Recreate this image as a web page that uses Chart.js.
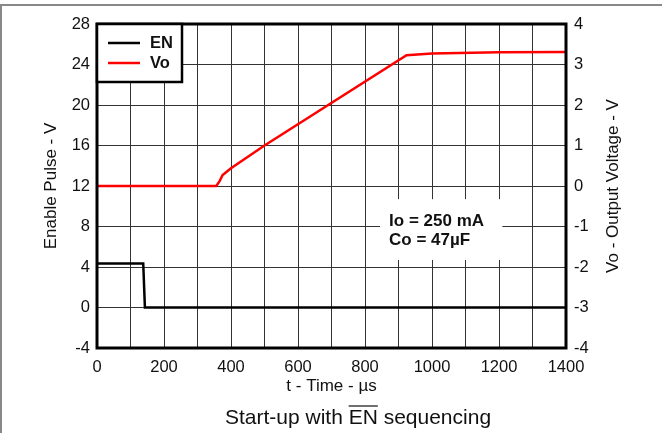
<!DOCTYPE html>
<html>
<head>
<meta charset="utf-8">
<script src="https://cdn.jsdelivr.net/npm/chart.js@4.4.1/dist/chart.umd.min.js"></script>
<style>
  html, body { margin: 0; padding: 0; background: #fff; }
  #wrap { position: relative; width: 663px; height: 433px; }
</style>
</head>
<body>
<div id="wrap"><canvas id="startup" width="663" height="433"></canvas></div>
<script>
  // ── Data ────────────────────────────────────────────────────────
  const enTimes = [0, 138, 143, 1400];           // µs
  const enVolts = [4.35, 4.35, 0, 0];            // V (left axis)
  const voTimes = [0, 200, 356, 366, 375, 400, 500, 924, 1000, 1200, 1400];
  const voVolts = [0, 0, 0, 0.12, 0.27, 0.44, 1.0, 3.23, 3.27, 3.30, 3.31]; // V (right axis)

  const xTicks = [0, 200, 400, 600, 800, 1000, 1200, 1400];
  const leftTicks = [-4, 0, 4, 8, 12, 16, 20, 24, 28];
  const rightTicks = [-4, -3, -2, -1, 0, 1, 2, 3, 4];
  const noteLines = ['Io = 250 mA', 'Co = 47\u00B5F'];
  const rightTitle = 'Vo - Output Voltage - V';

  const FONT = "'Liberation Sans', Arial, sans-serif";
  const INK = '#111';

  const toPoints = (xs, ys) => xs.map((x, i) => ({ x, y: ys[i] }));

  // ── Custom drawing: frame, legend, note box, caption ────────────
  const decor = {
    id: 'decor',
    beforeDraw(chart) {
      const ctx = chart.ctx;
      ctx.save();
      ctx.fillStyle = '#fff';
      ctx.fillRect(0, 0, chart.width, chart.height);
      ctx.restore();
    },
    beforeDatasetsDraw(chart) {
      // white note box covering the grid
      const { ctx, scales: { x, y } } = chart;
      const x0 = x.getPixelForValue(845), x1 = x.getPixelForValue(1210);
      const y0 = y.getPixelForValue(10.7), y1 = y.getPixelForValue(4.7);
      ctx.save();
      ctx.fillStyle = '#fff';
      ctx.fillRect(x0, y0, x1 - x0, y1 - y0);
      ctx.fillStyle = INK;
      ctx.font = 'bold 17px ' + FONT;
      ctx.textBaseline = 'middle';
      ctx.fillText(noteLines[0], x0 + 9, y0 + 22);
      ctx.fillText(noteLines[1], x0 + 9, y0 + 41);
      ctx.restore();
    },
    afterDatasetsDraw(chart) {
      const { ctx, chartArea: a } = chart;
      ctx.save();
      // plot frame
      ctx.strokeStyle = '#000';
      ctx.lineWidth = 3;
      ctx.strokeRect(a.left, a.top, a.right - a.left, a.bottom - a.top);

      // legend box in the top-left corner
      const lw = 85, lh = 58;
      ctx.fillStyle = '#fff';
      ctx.fillRect(a.left, a.top, lw, lh);
      ctx.lineWidth = 2.5;
      ctx.strokeRect(a.left, a.top, lw, lh);
      ctx.font = 'bold 16.5px ' + FONT;
      ctx.textBaseline = 'middle';
      chart.data.datasets.forEach((ds, i) => {
        const yy = a.top + 19 + i * 20;
        ctx.strokeStyle = ds.borderColor;
        ctx.lineWidth = 2.5;
        ctx.beginPath();
        ctx.moveTo(a.left + 11, yy);
        ctx.lineTo(a.left + 43, yy);
        ctx.stroke();
        ctx.fillStyle = INK;
        ctx.fillText(ds.label, a.left + 53, yy);
      });
      ctx.restore();
    },
    afterDraw(chart) {
      const { ctx, chartArea: a } = chart;
      ctx.save();
      // outer page frame (top and left edges)
      ctx.strokeStyle = '#888';
      ctx.lineWidth = 2;
      ctx.beginPath();
      ctx.moveTo(0, 5);
      ctx.lineTo(662, 5);
      ctx.moveTo(1, 5);
      ctx.lineTo(1, chart.height);
      ctx.stroke();

      // right axis title, reading bottom-to-top like the left one
      ctx.save();
      ctx.translate(613, (a.top + a.bottom) / 2);
      ctx.rotate(-Math.PI / 2);
      ctx.font = '17px ' + FONT;
      ctx.fillStyle = INK;
      ctx.textAlign = 'center';
      ctx.textBaseline = 'middle';
      ctx.fillText(rightTitle, 0, 0);
      ctx.restore();

      // caption with overlined EN
      const pre = 'Start-up with ', bar = 'EN', post = ' sequencing';
      ctx.font = '21px ' + FONT;
      ctx.fillStyle = INK;
      ctx.textBaseline = 'middle';
      const wPre = ctx.measureText(pre).width;
      const wBar = ctx.measureText(bar).width;
      const wAll = ctx.measureText(pre + bar + post).width;
      const sx = 358 - wAll / 2, cy = 418;
      ctx.fillText(pre + bar + post, sx, cy);
      ctx.strokeStyle = INK;
      ctx.lineWidth = 1.2;
      ctx.beginPath();
      ctx.moveTo(sx + wPre, cy - 12);
      ctx.lineTo(sx + wPre + wBar, cy - 12);
      ctx.stroke();
      ctx.restore();
    }
  };

  new Chart(document.getElementById('startup'), {
    type: 'line',
    data: {
      datasets: [
        {
          label: 'EN',
          data: toPoints(enTimes, enVolts),
          borderColor: '#000',
          borderWidth: 2.5,
          pointRadius: 0,
          tension: 0,
          yAxisID: 'y'
        },
        {
          label: 'Vo',
          data: toPoints(voTimes, voVolts),
          borderColor: '#ff0000',
          borderWidth: 2.5,
          pointRadius: 0,
          tension: 0,
          yAxisID: 'y1'
        }
      ]
    },
    options: {
      responsive: false,
      animation: false,
      events: [],
      layout: { padding: { top: 24, left: 0, right: 0, bottom: 0 } },
      plugins: { legend: { display: false }, tooltip: { enabled: false } },
      scales: {
        x: {
          type: 'linear',
          min: 0, max: 1400,
          afterFit(s) { s.height = 85; },
          afterBuildTicks(s) {
            s.ticks = [];
            for (let v = 0; v <= 1400; v += 100) s.ticks.push({ value: v });
          },
          ticks: {
            autoSkip: false, maxRotation: 0, padding: 10, color: INK,
            font: { family: FONT, size: 16.5 },
            callback: v => (xTicks.includes(v) ? String(v) : '')
          },
          grid: { color: '#333', lineWidth: 1, drawTicks: false },
          border: { display: false },
          title: {
            display: true, text: 't - Time - \u00B5s', color: INK,
            font: { family: FONT, size: 17 }, padding: { top: 0, bottom: 36 }
          }
        },
        y: {
          position: 'left',
          min: -4, max: 28,
          afterFit(s) { s.width = 97; },
          afterBuildTicks(s) { s.ticks = leftTicks.map(v => ({ value: v })); },
          ticks: { padding: 7, color: INK, font: { family: FONT, size: 16.5 } },
          grid: { color: '#333', lineWidth: 1, drawTicks: false },
          border: { display: false },
          title: {
            display: true, text: 'Enable Pulse - V', color: INK,
            font: { family: FONT, size: 17 }, padding: { top: 41, bottom: 0 }
          }
        },
        y1: {
          position: 'right',
          min: -4, max: 4,
          afterFit(s) { s.width = 97; },
          afterBuildTicks(s) { s.ticks = rightTicks.map(v => ({ value: v })); },
          ticks: { padding: 8, color: INK, font: { family: FONT, size: 16.5 } },
          grid: { display: false, drawTicks: false },
          border: { display: false },
          title: { display: false }
        }
      }
    },
    plugins: [decor]
  });
</script>
</body>
</html>
